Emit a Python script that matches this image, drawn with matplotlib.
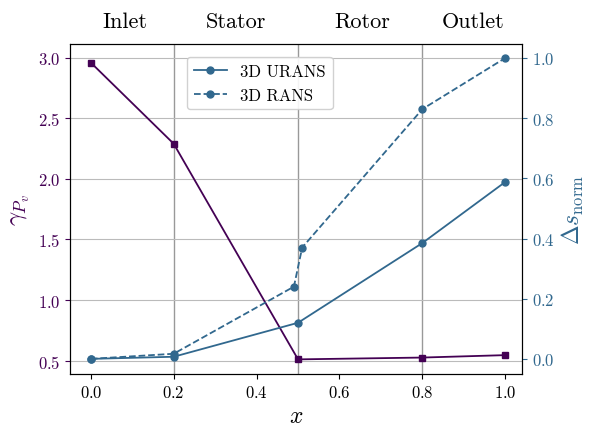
import matplotlib
matplotlib.use("Agg")
import matplotlib.pyplot as plt

plt.rcParams['font.family'] = 'serif'
plt.rcParams['font.serif'] = ['cmr10']
plt.rcParams['mathtext.fontset'] = 'cm'
plt.rcParams['axes.formatter.use_mathtext'] = True

# data
x_pv = [0.0, 0.2, 0.5, 0.8, 1.0]
gamma_pv = [2.96, 2.29, 0.51, 0.525, 0.545]

x_urans = [0.0, 0.2, 0.5, 0.8, 1.0]
ds_urans = [0.0, 0.007, 0.12, 0.385, 0.588]

x_rans = [0.0, 0.2, 0.49, 0.51, 0.8, 1.0]
ds_rans = [0.0, 0.017, 0.24, 0.37, 0.83, 1.0]

sections = ['Inlet', 'Stator', 'Rotor', 'Outlet']
section_x = [0.082, 0.35, 0.655, 0.923]
boundaries = [0.2, 0.5, 0.8]

purple = '#440154'
blue = '#31688e'

fig, ax = plt.subplots(figsize=(5.89, 4.27), dpi=100)
fig.subplots_adjust(left=0.119, right=0.886, top=0.895, bottom=0.122)

ax.plot(x_pv, gamma_pv, color=purple, marker='s', markersize=5, linewidth=1.3)
ax.set_xlim(-0.05, 1.04)
ax.set_ylim(0.39, 3.115)
ax.set_xlabel(r'$x$', fontsize=17, labelpad=4)
ax.set_ylabel(r'$\gamma_{P_v}$', fontsize=18, color=purple)
ax.tick_params(axis='y', colors=purple, labelsize=12)
ax.tick_params(axis='x', labelsize=12)
ax.grid(True, axis='y', color='#bbbbbb', linewidth=0.8)
for b in boundaries:
    ax.axvline(b, color='#999999', linewidth=1.0, zorder=0)

ax2 = ax.twinx()
ax2.plot(x_urans, ds_urans, color=blue, marker='o', markersize=5, linewidth=1.3, label='3D URANS')
ax2.plot(x_rans, ds_rans, color=blue, marker='o', markersize=5, linewidth=1.3, linestyle='--', label='3D RANS')
ax2.set_ylim(-0.05, 1.047)
ax2.set_ylabel(r'$\Delta s_{\mathrm{norm}}$', fontsize=17, color=blue)
ax2.tick_params(axis='y', colors=blue, labelsize=12)
ax2.legend(loc='upper center', bbox_to_anchor=(0.42, 0.985), fontsize=12, framealpha=0.9)

for s, sx in zip(sections, section_x):
    ax.text(sx, 1.04, s, transform=ax.get_xaxis_transform(), ha='center', va='bottom', fontsize=16)

fig.savefig('out.png', dpi=100)
